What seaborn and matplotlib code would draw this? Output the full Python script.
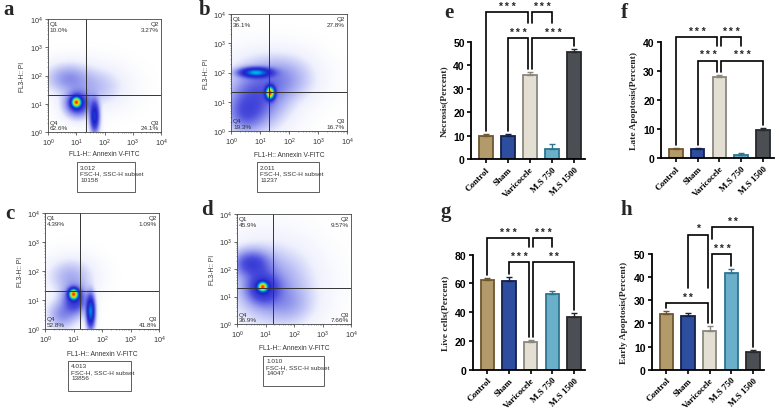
import numpy as np
import pandas as pd
import matplotlib
matplotlib.use("Agg")
import matplotlib.pyplot as plt
import seaborn as sns
from matplotlib.colors import LinearSegmentedColormap
from matplotlib.patches import Rectangle

# ---------------- data ----------------
groups = ["Control", "Sham", "Varicocele", "M.S 750", "M.S 1500"]

necrosis = [10.0, 10.0, 36.0, 4.2, 45.8]
necrosis_err = [0.5, 0.8, 1.2, 2.2, 1.0]
late_apoptosis = [3.2, 3.2, 27.8, 1.0, 9.5]
late_apoptosis_err = [0.3, 0.3, 0.8, 0.6, 0.8]
live_cells = [62.6, 61.9, 19.0, 52.8, 36.9]
live_cells_err = [1.2, 2.5, 1.6, 2.0, 2.3]
early_apoptosis = [24.1, 23.2, 16.6, 41.8, 7.5]
early_apoptosis_err = [1.1, 1.2, 2.1, 1.9, 0.9]

# significance comparisons: (group A, group B, bracket height, label)
necrosis_cmp = [("Control", "Varicocele", 62.7, "***"), ("Varicocele", "M.S 750", 62.7, "***"),
                ("Sham", "Varicocele", 51.6, "***"), ("Varicocele", "M.S 1500", 51.6, "***")]
late_cmp = [("Control", "Varicocele", 41.6, "***"), ("Varicocele", "M.S 750", 41.6, "***"),
            ("Sham", "Varicocele", 33.5, "***"), ("Varicocele", "M.S 1500", 33.5, "***")]
live_cmp = [("Control", "Varicocele", 91.4, "***"), ("Varicocele", "M.S 750", 91.4, "***"),
            ("Sham", "Varicocele", 74.7, "***"), ("Varicocele", "M.S 1500", 74.7, "**")]
early_cmp = [("Control", "Varicocele", 28.7, "**"), ("Varicocele", "M.S 750", 50.0, "***"),
             ("Sham", "Varicocele", 58.3, "*"), ("Varicocele", "M.S 1500", 61.6, "**")]

# flow cytometry: quadrant percentages Q1, Q2, Q3, Q4
quad_a = ["10.0%", "3.27%", "24.1%", "62.6%"]
quad_b = ["36.1%", "27.8%", "16.7%", "19.3%"]
quad_c = ["4.39%", "1.09%", "41.8%", "52.8%"]
quad_d = ["45.9%", "9.57%", "7.66%", "36.9%"]
gate_ids = ["3.012", "2.011", "4.013", "1.010"]
subset_counts = ["10158", "11237", "13856", "14047"]
# population clusters (log10 units): cx, cy, sx, sy, weight
clusters_a = [(1.0, 1.05, 0.1, 0.11, 1.0), (1.05, 1.0, 0.26, 0.26, 0.22), (1.65, 0.55, 0.1, 0.33, 0.3),
              (0.7, 1.9, 0.45, 0.3, 0.06), (1.6, 1.6, 0.6, 0.4, 0.035)]
clusters_b = [(1.35, 1.3, 0.09, 0.13, 1.0), (0.85, 2.0, 0.33, 0.1, 0.4), (0.9, 1.2, 0.6, 0.6, 0.1),
              (1.8, 1.8, 0.6, 0.45, 0.05), (0.5, 0.6, 0.4, 0.4, 0.08)]
clusters_c = [(1.0, 1.2, 0.1, 0.11, 1.0), (1.6, 0.6, 0.09, 0.33, 0.4), (1.05, 1.0, 0.26, 0.3, 0.17),
              (0.9, 1.8, 0.45, 0.35, 0.04), (0.6, 0.5, 0.3, 0.3, 0.06)]
clusters_d = [(0.9, 1.35, 0.1, 0.1, 1.0), (0.9, 1.3, 0.35, 0.35, 0.18), (0.5, 2.2, 0.4, 0.3, 0.14),
              (1.2, 1.4, 0.8, 0.8, 0.065), (1.8, 0.7, 0.5, 0.4, 0.03)]
gates = [(1.35, 1.31), (1.31, 1.33), (1.23, 1.31), (1.26, 1.31)]

bar_fill = ["#B39A6B", "#2D4E9E", "#E4DFD3", "#6AB0CB", "#4B4E53"]
bar_edge = ["#6E5630", "#15204A", "#8A8780", "#2F7590", "#26282B"]

# ---------------- figure ----------------
sns.set_style("ticks")
plt.rcParams["font.family"] = ["Liberation Sans", "DejaVu Sans"]
W, H = 779, 410
fig = plt.figure(figsize=(W / 100, H / 100), dpi=100)


def fx(x):
    return x / W


def fy(y):
    return 1 - y / H


def rect_px(l, t, r, b):
    return [fx(l), fy(b), (r - l) / W, (b - t) / H]


def letter(x, y, s):
    fig.text(fx(x), fy(y), s, family="Liberation Serif", weight="bold", fontsize=15,
             ha="center", va="center")


flow_cmap = LinearSegmentedColormap.from_list(
    "flow", [(0.0, "#ffffff"), (0.08, "#eef0fd"), (0.2, "#a4a9f0"), (0.33, "#4a4cdc"),
             (0.45, "#1c22c8"), (0.56, "#0a5ad8"), (0.64, "#00b0f0"), (0.72, "#2ee07e"),
             (0.82, "#c2f022"), (0.9, "#ffc000"), (1.0, "#ff2000")])


def flow_panel(box, clusters, gate, quads, gid, count, info_box, xlab_y, ylab_x):
    ax = fig.add_axes(rect_px(*box))
    g = np.linspace(0, 4, 240)
    X, Y = np.meshgrid(g, g)
    D = np.zeros_like(X)
    for cx, cy, sx, sy, w in clusters:
        D += w * np.exp(-0.5 * (((X - cx) / sx) ** 2 + ((Y - cy) / sy) ** 2))
    D = (D / D.max()) ** 0.5
    ax.imshow(D, extent=[0, 4, 0, 4], origin="lower", cmap=flow_cmap, vmin=0, vmax=1,
              interpolation="bilinear", aspect="auto")
    ax.axvline(gate[0], color="#333333", lw=0.7)
    ax.axhline(gate[1], color="#333333", lw=0.7)
    ax.set_xlim(0, 4)
    ax.set_ylim(0, 4)
    ticks = [0, 1, 2, 3, 4]
    labs = [r"$\mathregular{10^{%d}}$" % t for t in ticks]
    ax.set_xticks(ticks)
    ax.set_xticklabels(labs, fontsize=5.2, color="#333333")
    ax.set_yticks(ticks)
    ax.set_yticklabels(labs, fontsize=5.2, color="#333333")
    minor = [d + np.log10(k) for d in range(4) for k in range(2, 10)]
    ax.set_xticks(minor, minor=True)
    ax.set_yticks(minor, minor=True)
    ax.tick_params(which="major", length=2.2, width=0.5, pad=1.5, colors="#333333")
    ax.tick_params(which="minor", length=1.0, width=0.4, colors="#555555")
    for s in ax.spines.values():
        s.set_linewidth(0.6)
        s.set_color("#444444")
    fs = 4.6
    ax.text(0.07, 3.93, "Q1\n" + quads[0], ha="left", va="top", fontsize=fs, color="#333333", linespacing=1.2)
    ax.text(3.93, 3.93, "Q2\n" + quads[1], ha="right", va="top", fontsize=fs, color="#333333", linespacing=1.2)
    ax.text(3.93, 0.06, "Q3\n" + quads[2], ha="right", va="bottom", fontsize=fs, color="#333333", linespacing=1.2)
    ax.text(0.07, 0.06, "Q4\n" + quads[3], ha="left", va="bottom", fontsize=fs, color="#333333", linespacing=1.2)
    cxp = (box[0] + box[2]) / 2
    fig.text(fx(cxp), fy(xlab_y), "FL1-H:: Annexin V-FITC", fontsize=4.8, ha="center", va="center", color="#333333")
    fig.text(fx(ylab_x), fy((box[1] + box[3]) / 2), "FL3-H:: PI", fontsize=4.8, rotation=90,
             ha="center", va="center", color="#333333")
    l, t, r, b = info_box
    fig.add_artist(Rectangle((fx(l), fy(b)), (r - l) / W, (b - t) / H, transform=fig.transFigure,
                             fill=False, lw=0.6, ec="#444444"))
    fig.text(fx(l + 3), fy(t + 2.5), gid + "\nFSC-H, SSC-H subset\n" + count, fontsize=4.6,
             ha="left", va="top", color="#333333", linespacing=1.25)
    return ax


flow_panel((48, 20, 161, 133), clusters_a, gates[0], quad_a, gate_ids[0], subset_counts[0],
           (77, 163, 135, 193), 155, 23)
flow_panel((231, 15, 347, 132), clusters_b, gates[1], quad_b, gate_ids[1], subset_counts[1],
           (257, 163, 319, 193), 156, 206)
flow_panel((45, 214, 159, 330), clusters_c, gates[2], quad_c, gate_ids[2], subset_counts[2],
           (68, 362, 131, 392), 355, 20)
flow_panel((237, 215, 351, 325), clusters_d, gates[3], quad_d, gate_ids[3], subset_counts[3],
           (263, 357, 324, 387), 349, 212)
letter(9, 10, "a")
letter(205, 10, "b")
letter(10, 214, "c")
letter(207, 210, "d")


def bar_panel(axis_x, y0, ytop, ymax, ystep, slot, values, errs, comps, ylabel):
    xl, xr = -0.68, 4.5
    left_px = axis_x
    width_px = (xr - xl) * slot
    ax = fig.add_axes([fx(left_px), fy(y0), width_px / W, (y0 - ytop) / H])
    df = pd.DataFrame({"group": groups, "value": values})
    sns.barplot(data=df, x="group", y="value", hue="group", palette=dict(zip(groups, bar_fill)),
                legend=False, width=0.62, linewidth=1.3, errorbar=None, saturation=1, ax=ax)
    for p, ec in zip(ax.patches, bar_edge):
        p.set_edgecolor(ec)
    for i, (v, e) in enumerate(zip(values, errs)):
        ax.errorbar(i, v, yerr=[[0], [e]], fmt="none", ecolor=bar_edge[i], elinewidth=1.0,
                    capsize=2.3, capthick=1.0, zorder=3)
    ax.set_xlim(xl, xr)
    ax.set_ylim(0, ymax)
    yt = list(range(0, int(ymax) + 1, ystep))
    ax.set_yticks(yt)
    ax.set_yticklabels([str(t) for t in yt], fontsize=7.5, fontweight="bold")
    ax.set_xticks(range(len(groups)))
    ax.set_xticklabels(groups, rotation=45, ha="right", rotation_mode="anchor",
                       family="Liberation Serif", fontweight="bold", fontsize=6.5)
    ax.set_xlabel("")
    ax.set_ylabel(ylabel, family="Liberation Serif", fontweight="bold", fontsize=6.8, labelpad=4)
    sns.despine(ax=ax)
    for s in ("left", "bottom"):
        ax.spines[s].set_linewidth(1.3)
        ax.spines[s].set_color("black")
    ax.tick_params(length=3, width=1.2, pad=1.5, colors="black")

    upp = ymax / (y0 - ytop)
    idx = {g: i for i, g in enumerate(groups)}
    spans = []
    for a, b, h, lab in comps:
        i, j = sorted((idx[a], idx[b]))
        spans.append([i, j, h, lab])
    legs = []
    for k, (i, j, h, lab) in enumerate(spans):
        xi, xj = float(i), float(j)
        if any(o[1] == i for m, o in enumerate(spans) if m != k):
            xi += 0.09
        if any(o[0] == j for m, o in enumerate(spans) if m != k):
            xj -= 0.09
        legs.append((xi, xj))
    for k, (i, j, h, lab) in enumerate(spans):
        xi, xj = legs[k]
        bottoms = []
        for xx, bi in ((xi, i), (xj, j)):
            base = values[bi] + errs[bi] + 3 * upp
            for m, (i2, j2, h2, _) in enumerate(spans):
                if m == k or h2 >= h:
                    continue
                a2, b2 = legs[m]
                if a2 - 0.05 <= xx <= b2 + 0.05:
                    base = max(base, h2 + 15 * upp)
            bottoms.append(base)
        ax.plot([xi, xi, xj, xj], [bottoms[0], h, h, bottoms[1]], color="black", lw=1.2,
                clip_on=False, solid_joinstyle="miter")
        ax.text((xi + xj) / 2, h + 1.5 * upp, " ".join(lab) if len(lab) > 1 else lab,
                ha="center", va="bottom", fontsize=7.5, fontweight="bold", clip_on=False)
    return ax


bar_panel(471, 160, 43, 50, 10, 22.0, necrosis, necrosis_err, necrosis_cmp, "Necrosis(Percent)")
bar_panel(661, 159, 43, 40, 10, 21.75, late_apoptosis, late_apoptosis_err, late_cmp, "Late Apoptosis(Percent)")
bar_panel(472.7, 370.7, 255.7, 80, 20, 21.65, live_cells, live_cells_err, live_cmp, "Live cells(Percent)")
bar_panel(651.7, 370.7, 255, 50, 10, 21.67, early_apoptosis, early_apoptosis_err, early_cmp, "Early Apoptosis(Percent)")
letter(449, 13, "e")
letter(624, 13, "f")
letter(446, 212, "g")
letter(626, 210, "h")

fig.savefig("out.png", dpi=100)
